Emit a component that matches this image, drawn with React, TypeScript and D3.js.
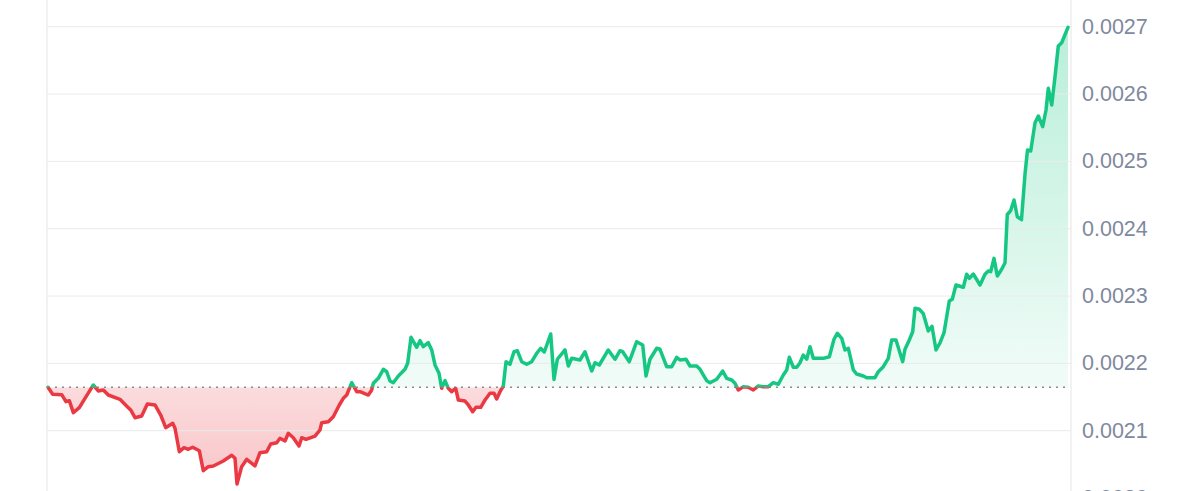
import React from "react";
import * as d3 from "d3";

// time since start, in hours (7-day window)
const hours = [
  0, 0.77, 2.26, 2.96, 3.51, 4.17, 5.16, 6.09, 7.46, 8.28, 9.11, 9.93, 11.86, 13.06, 13.62, 14.33, 15.43, 16.36, 17.62, 18.56,
  19.39, 20.54, 20.92, 21.63, 22.4, 23.11, 23.83, 24.92, 25.58, 26.4, 27.23, 28.87, 30.26, 30.8, 31.13, 31.9, 32.73, 34.09, 34.92, 36.02,
  36.68, 37.67, 38.21, 39.04, 39.58, 40.4, 41.34, 41.79, 42.49, 43.98, 44.8, 45.08, 46.17, 46.99, 47.98, 48.64, 49.2, 50.02, 50.85, 51.39,
  52.76, 53.32, 53.58, 54.4, 55.23, 55.79, 56.33, 56.87, 57.7, 58.8, 59.24, 59.79, 60.73, 61.27, 61.81, 62.64, 63.2, 63.74, 64.4, 64.84,
  65.39, 65.93, 66.49, 67.15, 67.58, 68.68, 69.23, 69.95, 70.49, 71.27, 71.98, 72.8, 73.46, 73.9, 74.45, 74.99, 75.44, 76.09, 76.75, 77.3,
  78.02, 78.85, 79.67, 80.49, 81.15, 81.74, 82.8, 83.34, 83.89, 85.15, 85.7, 86.26, 87.62, 88.45, 89.55, 90.1, 90.8, 92.28, 93.39, 94.21,
  94.66, 95.74, 96.96, 97.95, 98.5, 99.15, 100.26, 100.8, 101.9, 102.73, 103.55, 104.09, 105.08, 105.74, 106.85, 107.39, 108.49, 109.04, 110.14, 111.13,
  111.79, 112.61, 113.15, 113.7, 114.52, 115.34, 116.17, 116.99, 117.81, 118.64, 119.46, 120.29, 121.11, 121.67, 122.1, 122.76, 123.32, 123.86, 124.4, 124.96,
  125.51, 126.05, 127.7, 128.69, 129.46, 130.0, 130.73, 131.27, 131.82, 132.64, 133.2, 134.29, 134.85, 136.21, 136.76, 137.58, 138.4, 138.96, 139.67, 140.77,
  141.15, 141.86, 142.42, 142.8, 143.51, 144.17, 144.99, 145.6, 146.26, 146.92, 147.58, 148.45, 148.94, 149.55, 150.76, 151.31, 151.75, 152.4, 153.51, 154.33,
  154.87, 155.27, 155.81, 156.36, 157.08, 157.63, 158.0, 158.56, 159.11, 159.65, 160.34, 160.92, 161.33, 161.86, 162.57, 163.11, 163.83, 164.38, 164.76, 165.32,
  165.86, 166.4, 166.96, 168,
];

// price in USD
const prices = [
  2164.5e-6, 2154.1e-6, 2153.5e-6, 2143.1e-6, 2144.6e-6, 2126.8e-6, 2134.2e-6, 2148.1e-6, 2167.9e-6, 2159.0e-6,
  2160.5e-6, 2153.0e-6, 2146.6e-6, 2135.7e-6, 2130.8e-6, 2119.3e-6, 2121.8e-6, 2139.7e-6, 2138.2e-6, 2123.3e-6,
  2104.5e-6, 2111.0e-6, 2103.6e-6, 2068.8e-6, 2074.8e-6, 2072.4e-6, 2075.4e-6, 2070.3e-6, 2040.6e-6, 2046.6e-6,
  2047.6e-6, 2055.0e-6, 2063.5e-6, 2059.0e-6, 2020.9e-6, 2046.6e-6, 2057.5e-6, 2047.6e-6, 2067.3e-6, 2068.8e-6,
  2080.3e-6, 2082.2e-6, 2088.7e-6, 2084.7e-6, 2096.2e-6, 2089.6e-6, 2077.3e-6, 2089.6e-6, 2087.2e-6, 2092.1e-6,
  2101.1e-6, 2111.9e-6, 2113.4e-6, 2120.8e-6, 2138.2e-6, 2148.1e-6, 2153.0e-6, 2171.3e-6, 2157.9e-6, 2157.9e-6,
  2153.0e-6, 2160.5e-6, 2170.4e-6, 2177.8e-6, 2191.2e-6, 2187.6e-6, 2173.8e-6, 2171.3e-6, 2181.3e-6, 2191.2e-6,
  2200.1e-6, 2238.7e-6, 2223.9e-6, 2233.7e-6, 2224.8e-6, 2230.7e-6, 2219.9e-6, 2197.6e-6, 2185.3e-6, 2163.0e-6,
  2174.3e-6, 2163.0e-6, 2157.9e-6, 2163.0e-6, 2145.6e-6, 2144.1e-6, 2138.2e-6, 2128.2e-6, 2134.8e-6, 2134.8e-6,
  2145.6e-6, 2155.6e-6, 2155.6e-6, 2147.1e-6, 2157.9e-6, 2166.4e-6, 2202.5e-6, 2198.6e-6, 2217.3e-6, 2218.8e-6,
  2202.5e-6, 2198.6e-6, 2202.5e-6, 2215.0e-6, 2222.4e-6, 2216.9e-6, 2243.6e-6, 2176.1e-6, 2206.1e-6, 2219.9e-6,
  2196.1e-6, 2207.5e-6, 2205.0e-6, 2217.3e-6, 2188.7e-6, 2201.0e-6, 2197.6e-6, 2219.9e-6, 2206.1e-6, 2218.8e-6,
  2217.3e-6, 2202.5e-6, 2232.2e-6, 2227.3e-6, 2181.3e-6, 2206.1e-6, 2222.4e-6, 2220.9e-6, 2195.1e-6, 2195.1e-6,
  2209.0e-6, 2205.0e-6, 2206.1e-6, 2196.1e-6, 2196.1e-6, 2191.2e-6, 2174.3e-6, 2171.3e-6, 2176.4e-6, 2188.7e-6,
  2177.8e-6, 2175.3e-6, 2170.4e-6, 2160.5e-6, 2165.4e-6, 2164.5e-6, 2160.5e-6, 2166.4e-6, 2165.4e-6, 2165.4e-6,
  2171.3e-6, 2169.0e-6, 2182.7e-6, 2190.2e-6, 2209.0e-6, 2194.2e-6, 2194.2e-6, 2201.0e-6, 2212.4e-6, 2206.1e-6,
  2224.8e-6, 2207.5e-6, 2207.5e-6, 2209.9e-6, 2235.8e-6, 2244.7e-6, 2237.2e-6, 2219.9e-6, 2222.4e-6, 2190.2e-6,
  2184.2e-6, 2181.3e-6, 2178.7e-6, 2178.7e-6, 2187.6e-6, 2195.1e-6, 2207.5e-6, 2234.7e-6, 2234.7e-6, 2202.5e-6,
  2220.9e-6, 2234.7e-6, 2247.0e-6, 2281.8e-6, 2280.3e-6, 2273.8e-6, 2248.1e-6, 2255.1e-6, 2219.9e-6, 2230.3e-6,
  2245.6e-6, 2292.6e-6, 2295.2e-6, 2316.4e-6, 2313.0e-6, 2332.3e-6, 2326.3e-6, 2332.7e-6, 2316.4e-6, 2332.3e-6,
  2337.2e-6, 2336.2e-6, 2356.0e-6, 2329.8e-6, 2339.7e-6, 2349.5e-6, 2421.1e-6, 2427.0e-6, 2442.6e-6, 2417.8e-6,
  2413.4e-6, 2481.2e-6, 2516.9e-6, 2515.4e-6, 2557.4e-6, 2567.4e-6, 2551.5e-6, 2576.3e-6, 2608.5e-6, 2583.7e-6,
  2625.7e-6, 2671.3e-6, 2676.2e-6, 2699.1e-6,
];

const yTicks = [0.002, 0.0021, 0.0022, 0.0023, 0.0024, 0.0025, 0.0026, 0.0027];
const yTickLabels = ["0.0020", "0.0021", "0.0022", "0.0023", "0.0024", "0.0025", "0.0026", "0.0027"];

const GREEN = "#16c784";
const RED = "#ea3943";

export default function App() {
  const W = 1200;
  const H = 491;
  const plotLeft = 47;
  const plotRight = 1071;

  const x = d3.scaleLinear().domain([0, 168]).range([48, 1068]);
  const y = d3.scaleLinear().domain([0.0021, 0.0027]).range([430.7, 26.7]);

  const data = hours.map((h, i) => ({ h, p: prices[i] }));
  const base = prices[0];
  const by = y(base);

  const line = d3
    .line<{ h: number; p: number }>()
    .x((d) => x(d.h))
    .y((d) => y(d.p));
  const area = d3
    .area<{ h: number; p: number }>()
    .x((d) => x(d.h))
    .y0(by)
    .y1((d) => y(d.p));

  const linePath = line(data) || "";
  const areaPath = area(data) || "";

  return (
    <svg
      width={W}
      height={H}
      viewBox={`0 0 ${W} ${H}`}
      style={{ position: "fixed", left: 0, top: 0, background: "#fff", display: "block" }}
    >
      <defs>
        <clipPath id="above">
          <rect x={0} y={0} width={W} height={by} />
        </clipPath>
        <clipPath id="below">
          <rect x={0} y={by} width={W} height={H - by} />
        </clipPath>
        <linearGradient id="gGreen" gradientUnits="userSpaceOnUse" x1={0} x2={0} y1={y(0.0027)} y2={by}>
          <stop offset="0%" stopColor={GREEN} stopOpacity={0.3} />
          <stop offset="100%" stopColor={GREEN} stopOpacity={0.06} />
        </linearGradient>
        <linearGradient id="gRed" gradientUnits="userSpaceOnUse" x1={0} x2={0} y1={by} y2={H}>
          <stop offset="0%" stopColor={RED} stopOpacity={0.18} />
          <stop offset="100%" stopColor={RED} stopOpacity={0.3} />
        </linearGradient>
      </defs>

      {/* vertical borders */}
      <line x1={plotLeft} x2={plotLeft} y1={0} y2={H} stroke="#eeeeee" strokeWidth={1.5} />
      <line x1={plotRight} x2={plotRight} y1={0} y2={H} stroke="#eeeeee" strokeWidth={1.5} />

      {/* fills */}
      <path d={areaPath} fill="url(#gGreen)" clipPath="url(#above)" />
      <path d={areaPath} fill="url(#gRed)" clipPath="url(#below)" />

      {/* grid */}
      {yTicks.map((t) => (
        <line key={t} x1={plotLeft} x2={plotRight} y1={y(t)} y2={y(t)} stroke="#ebebeb" strokeWidth={1} />
      ))}

      {/* baseline */}
      <line
        x1={x(0)}
        x2={x(168)}
        y1={by}
        y2={by}
        stroke="#8c8c8c"
        strokeWidth={1.5}
        strokeDasharray="2 5"
      />

      {/* line */}
      <path d={linePath} fill="none" stroke={GREEN} strokeWidth={3.5} strokeLinejoin="round" strokeLinecap="round" clipPath="url(#above)" />
      <path d={linePath} fill="none" stroke={RED} strokeWidth={3.5} strokeLinejoin="round" strokeLinecap="round" clipPath="url(#below)" />

      {/* labels */}
      {yTicks.map((t, i) => (
        <text
          key={t}
          x={1082}
          y={y(t)}
          dominantBaseline="central"
          fontFamily="'Liberation Sans', Arial, sans-serif"
          fontSize={21.5}
          fill="#7f899e"
        >
          {yTickLabels[i]}
        </text>
      ))}
    </svg>
  );
}
